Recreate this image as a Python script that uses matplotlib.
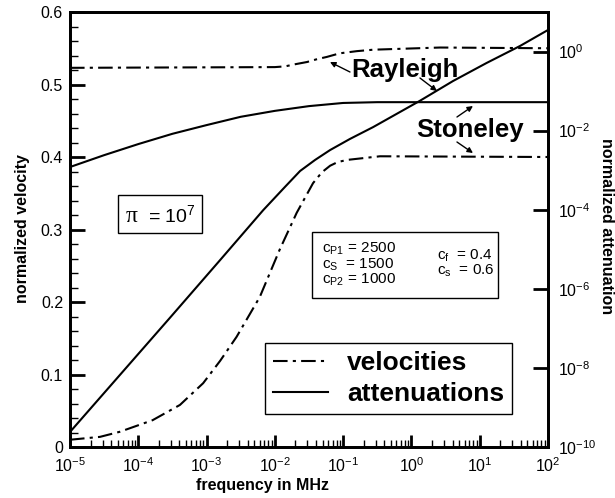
import numpy as np
import matplotlib.pyplot as plt
from matplotlib.patches import Rectangle
from matplotlib.ticker import LogLocator, NullLocator, FixedLocator, FuncFormatter, MultipleLocator

plt.rcParams['font.family'] = ['Liberation Sans', 'DejaVu Sans']
plt.rcParams['mathtext.fontset'] = 'custom'
plt.rcParams['mathtext.rm'] = 'Liberation Sans'
plt.rcParams['mathtext.it'] = 'Liberation Sans:italic'
plt.rcParams['mathtext.bf'] = 'Liberation Sans:bold'

# Datos (frecuencia como log10 de MHz)
ray_vel_logf = [-5.0, -2.0, -1.85, -1.70, -1.53, -1.38, -1.24, -1.05, -0.80, -0.56, 0.42, 2.0]
ray_vel = [0.523, 0.524, 0.525, 0.528, 0.531, 0.535, 0.538, 0.543, 0.546, 0.548, 0.551, 0.550]

sto_vel_logf = [-5.0, -4.56, -4.27, -3.79, -3.39, -3.05, -2.80, -2.56, -2.22,
                -1.93, -1.68, -1.44, -1.31, -1.19, -1.08, -0.94, -0.46, 2.0]
sto_vel = [0.010, 0.014, 0.021, 0.037, 0.058, 0.088, 0.119, 0.152, 0.207,
           0.272, 0.323, 0.364, 0.379, 0.388, 0.393, 0.396, 0.401, 0.400]

# atenuaciones como log10
ray_att_logf = [-5.0, -4.27, -3.54, -2.80, -2.17, -1.85, -1.63, -1.41, -1.19,
                -0.90, -0.56, 0.12, 0.61, 1.10, 1.59, 2.0]
ray_att_log = [-9.62, -8.18, -6.74, -5.27, -4.01, -3.42, -3.02, -2.74, -2.49,
               -2.21, -1.91, -1.25, -0.745, -0.29, 0.14, 0.545]

sto_att_logf = [-5.0, -4.5, -4.0, -3.5, -3.0, -2.5, -2.0, -1.5, -1.0, -0.5, 2.0]
sto_att_log = [-2.92, -2.62, -2.34, -2.08, -1.86, -1.65, -1.50, -1.38, -1.30, -1.28, -1.28]

xticks_exp = [-5, -4, -3, -2, -1, 0, 1, 2]
att_ticks_exp = [-10, -8, -6, -4, -2, 0]

dashdot = (0, (7, 2.5, 1.5, 2.5))

fig = plt.figure(figsize=(6.15, 4.98), dpi=100)
ax = fig.add_axes([0.1138, 0.1024, 0.7772, 0.8735])
ax.set_xscale('log')
ax2 = ax.twinx()
ax2.set_yscale('log')

l_vel, = ax.plot(10.0 ** np.array(ray_vel_logf), ray_vel, color='k', lw=1.5, ls=dashdot)
ax.plot(10.0 ** np.array(sto_vel_logf), sto_vel, color='k', lw=1.5, ls=dashdot)
l_att, = ax2.plot(10.0 ** np.array(ray_att_logf), 10.0 ** np.array(ray_att_log), color='k', lw=1.5)
ax2.plot(10.0 ** np.array(sto_att_logf), 10.0 ** np.array(sto_att_log), color='k', lw=1.5)

ax.set_xlim(1e-5, 1e2)
ax.set_ylim(0, 0.6)
ax2.set_ylim(1e-10, 1e1)

ax.xaxis.set_major_locator(FixedLocator([10.0 ** e for e in xticks_exp]))
ax.xaxis.set_minor_locator(LogLocator(base=10, subs=np.arange(2, 10), numticks=20))
ax.xaxis.set_major_formatter(FuncFormatter(lambda v, p: r'$10^{%d}$' % round(np.log10(v))))
ax.yaxis.set_major_locator(MultipleLocator(0.1))
ax.yaxis.set_minor_locator(MultipleLocator(0.02))
ax.yaxis.set_major_formatter(FuncFormatter(lambda v, p: '0' if abs(v) < 1e-9 else '%.1f' % v))

ax2.yaxis.set_major_locator(FixedLocator([10.0 ** e for e in att_ticks_exp]))
ax2.yaxis.set_minor_locator(NullLocator())
ax2.yaxis.set_major_formatter(FuncFormatter(lambda v, p: r'$10^{%d}$' % round(np.log10(v))))

ax.tick_params(axis='both', which='both', direction='in', labelsize=11.5, colors='k')
ax.tick_params(axis='y', which='major', length=11, width=2, pad=5, right=False)
ax.tick_params(axis='y', which='minor', length=6, width=1, right=False)
ax.tick_params(axis='x', which='major', length=9, width=2, pad=7, top=False)
ax.tick_params(axis='x', which='minor', length=5, width=1, top=False)
ax2.tick_params(axis='y', which='major', direction='in', length=11, width=2, pad=7, labelsize=11.5)

for a in (ax, ax2):
    for s in a.spines.values():
        s.set_linewidth(2)

# textos de ejes
fig.text(262 / 615, 1 - 485 / 498, 'frequency in MHz', ha='center', va='center',
         fontsize=11.5, fontweight='bold')
fig.text(23 / 615, 1 - 229 / 498, 'normalized velocity', ha='center', va='center',
         rotation=90, fontsize=11.5, fontweight='bold')
fig.text(606 / 615, 1 - 226 / 498, 'normalized attenuation', ha='center', va='center',
         rotation=270, fontsize=11.5, fontweight='bold')

# etiquetas de modos
ax2.text(0.701, 0.851, 'Rayleigh', transform=ax2.transAxes, ha='center', va='baseline',
         fontsize=18.5, fontweight='bold')
ax2.text(0.837, 0.713, 'Stoneley', transform=ax2.transAxes, ha='center', va='baseline',
         fontsize=18.5, fontweight='bold')


def px(x, y):
    # pixel de la imagen -> fraccion de ejes
    return ((x - 70) / 478, 1 - (y - 12) / 435)


arrows = [((350, 72), (330, 62)), ((420, 78), (437, 91)),
          ((457, 117), (473, 106)), ((457, 142), (473, 153))]
for tail, head in arrows:
    ax2.annotate('', xy=px(*head), xytext=px(*tail), xycoords='axes fraction',
                 textcoords='axes fraction',
                 arrowprops=dict(arrowstyle='-|>', color='k', lw=1, mutation_scale=8,
                                 shrinkA=0, shrinkB=0))

# caja pi
x0, y0 = px(118, 233)
x1, y1 = px(202, 195)
ax2.add_patch(Rectangle((x0, y0), x1 - x0, y1 - y0, transform=ax2.transAxes,
                        fill=False, ec='k', lw=1))
ax2.text(*px(126, 222), 'π', transform=ax2.transAxes, ha='left', va='baseline',
         fontsize=17, family='Liberation Serif')
ax2.text(*px(148, 222), r'= 10$^7$', transform=ax2.transAxes, ha='left', va='baseline',
         fontsize=14)

# caja de parametros
x0, y0 = px(312, 298)
x1, y1 = px(498, 232)
ax2.add_patch(Rectangle((x0, y0), x1 - x0, y1 - y0, transform=ax2.transAxes,
                        fill=False, ec='k', lw=1))
params_left = [r'$\mathregular{c_{P1}}$ = 2500', r'$\mathregular{c_{S}}$  = 1500',
               r'$\mathregular{c_{P2}}$ = 1000']
params_right = [r'$\mathregular{c_{f}}$  = 0.4', r'$\mathregular{c_{s}}$  = 0.6']
for i, s in enumerate(params_left):
    ax2.text(*px(322, 253 + 15.5 * i), s, transform=ax2.transAxes, ha='left',
             va='baseline', fontsize=11)
for i, s in enumerate(params_right):
    ax2.text(*px(437, 260 + 15 * i), s, transform=ax2.transAxes, ha='left',
             va='baseline', fontsize=11)

leg = ax2.legend([l_vel, l_att], ['velocities', 'attenuations'], loc='upper left',
                 bbox_to_anchor=px(265, 343), borderaxespad=0, fancybox=False,
                 edgecolor='k', framealpha=1, prop={'weight': 'bold', 'size': 19},
                 handlelength=2.1, handletextpad=0.72, labelspacing=0.28, borderpad=0.3)
leg.get_frame().set_linewidth(1)

fig.savefig('out.png', dpi=100)
